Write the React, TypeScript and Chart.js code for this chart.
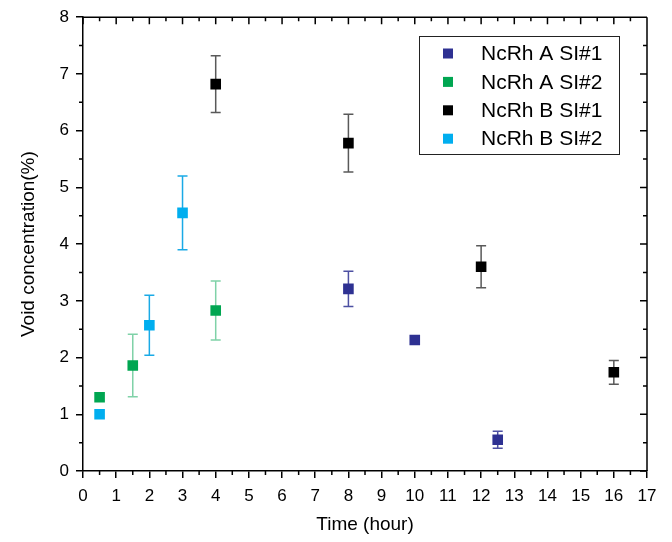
import React, { useEffect, useRef } from "react";
import { Chart, registerables } from "chart.js";

Chart.register(...registerables);

// ---- Data ----
const seriesLabels = ["NcRh A SI#1", "NcRh A SI#2", "NcRh B SI#1", "NcRh B SI#2"];

const aS1Time = [8, 10, 12.5];
const aS1Void = [3.21, 2.31, 0.55];
const aS1Err = [0.31, 0, 0.15];

const aS2Time = [0.5, 1.5, 4];
const aS2Void = [1.3, 1.86, 2.83];
const aS2Err = [0, 0.55, 0.52];

const bS1Time = [4, 8, 12, 16];
const bS1Void = [6.82, 5.78, 3.6, 1.74];
const bS1Err = [0.5, 0.51, 0.37, 0.21];

const bS2Time = [0.5, 2, 3];
const bS2Void = [1.0, 2.57, 4.55];
const bS2Err = [0, 0.53, 0.65];

const xTickMin = 0;
const xTickMax = 17;
const yTickMin = 0;
const yTickMax = 8;

// ---- Styles ----
const markerColors = ["#2E3192", "#00A651", "#000000", "#00AEEF"];
const errorColors = ["rgba(46,49,146,0.85)", "rgba(0,166,81,0.5)", "rgba(60,60,60,0.85)", "#1AAAE6"];
const FONT = "'Liberation Sans', Arial, sans-serif";

const allTimes = [aS1Time, aS2Time, bS1Time, bS2Time];
const allVoids = [aS1Void, aS2Void, bS1Void, bS2Void];
const allErrs = [aS1Err, aS2Err, bS1Err, bS2Err];

const errorBarPlugin = {
  id: "errorBars",
  beforeDatasetsDraw(chart: any) {
    const ctx = chart.ctx;
    const xs = chart.scales.x;
    const ys = chart.scales.y;
    ctx.save();
    ctx.lineWidth = 1.5;
    allTimes.forEach((times, di) => {
      ctx.strokeStyle = errorColors[di];
      times.forEach((t, i) => {
        const e = allErrs[di][i];
        if (!e) return;
        const px = xs.getPixelForValue(t);
        const top = ys.getPixelForValue(allVoids[di][i] + e);
        const bot = ys.getPixelForValue(allVoids[di][i] - e);
        ctx.beginPath();
        ctx.moveTo(px, top);
        ctx.lineTo(px, bot);
        ctx.moveTo(px - 5, top);
        ctx.lineTo(px + 5, top);
        ctx.moveTo(px - 5, bot);
        ctx.lineTo(px + 5, bot);
        ctx.stroke();
      });
    });
    ctx.restore();
  },
};

const framePlugin = {
  id: "frame",
  afterDraw(chart: any) {
    const ctx = chart.ctx;
    const { left, right, top, bottom } = chart.chartArea;
    const xs = chart.scales.x;
    const ys = chart.scales.y;
    const major = 7;
    const minor = 4;
    ctx.save();
    ctx.strokeStyle = "#000";
    ctx.lineWidth = 1.5;
    ctx.beginPath();
    ctx.moveTo(left, top);
    ctx.lineTo(right, top);
    ctx.moveTo(right, top);
    ctx.lineTo(right, bottom);
    for (let v = xTickMin; v <= xTickMax; v += 0.5) {
      const px = xs.getPixelForValue(v);
      const isMajor = Number.isInteger(v);
      const len = isMajor ? major : minor;
      ctx.moveTo(px, top);
      ctx.lineTo(px, top + len);
      if (!isMajor) {
        ctx.moveTo(px, bottom);
        ctx.lineTo(px, bottom + minor);
      }
    }
    for (let v = yTickMin; v <= yTickMax; v += 0.5) {
      const py = ys.getPixelForValue(v);
      const isMajor = Number.isInteger(v);
      const len = isMajor ? major : minor;
      ctx.moveTo(right, py);
      ctx.lineTo(right - len, py);
      if (!isMajor) {
        ctx.moveTo(left, py);
        ctx.lineTo(left - minor, py);
      }
    }
    ctx.stroke();

    // legend
    const bx = 419.5, by = 36.5, bw = 200, bh = 118;
    ctx.lineWidth = 1;
    ctx.strokeStyle = "#222";
    ctx.strokeRect(bx, by, bw, bh);
    ctx.font = `21px ${FONT}`;
    ctx.textBaseline = "middle";
    ctx.textAlign = "left";
    chart.data.datasets.forEach((ds: any, i: number) => {
      const cy = 53.5 + i * 28.4;
      ctx.fillStyle = ds.backgroundColor;
      ctx.fillRect(443, cy - 5, 10, 10);
      ctx.fillStyle = "#000";
      ctx.fillText(ds.label, 481, cy + 1);
    });
    ctx.restore();
  },
};

export default function App() {
  const canvasRef = useRef<HTMLCanvasElement | null>(null);

  useEffect(() => {
    document.body.style.margin = "0";
    const canvas = canvasRef.current;
    if (!canvas) return;
    const datasets = allTimes.map((times, di) => ({
      label: seriesLabels[di],
      data: times.map((t, i) => ({ x: t, y: allVoids[di][i] })),
      backgroundColor: markerColors[di],
      borderColor: markerColors[di],
      borderWidth: 0,
      pointStyle: "rect" as const,
      pointRadius: 7.5,
      pointHoverRadius: 7.5,
      showLine: false,
    }));
    const chart = new Chart(canvas, {
      type: "scatter",
      data: { datasets },
      options: {
        responsive: false,
        animation: false,
        devicePixelRatio: 1,
        layout: { padding: { top: 17, right: 25, left: 0, bottom: 0 } },
        plugins: {
          legend: { display: false },
          tooltip: { enabled: false },
        },
        scales: {
          x: {
            type: "linear",
            min: xTickMin,
            max: xTickMax,
            afterFit(scale: any) {
              scale.height = 71;
            },
            ticks: {
              stepSize: 1,
              padding: 8,
              color: "#000",
              font: { family: FONT, size: 17 },
              maxRotation: 0,
              autoSkip: false,
            },
            grid: {
              display: true,
              drawOnChartArea: false,
              drawTicks: true,
              tickLength: 7,
              color: "#000",
              lineWidth: 1.5,
            },
            border: { display: true, color: "#000", width: 1.5 },
            title: {
              display: true,
              text: "Time (hour)",
              color: "#000",
              font: { family: FONT, size: 19 },
              padding: { top: 0, bottom: 6 },
            },
          },
          y: {
            type: "linear",
            min: yTickMin,
            max: yTickMax,
            afterFit(scale: any) {
              scale.width = 83;
            },
            ticks: {
              stepSize: 1,
              padding: 7,
              color: "#000",
              font: { family: FONT, size: 17 },
            },
            grid: {
              display: true,
              drawOnChartArea: false,
              drawTicks: true,
              tickLength: 7,
              color: "#000",
              lineWidth: 1.5,
            },
            border: { display: true, color: "#000", width: 1.5 },
            title: {
              display: true,
              text: "Void concentration(%)",
              color: "#000",
              font: { family: FONT, size: 19 },
              padding: { top: 17, bottom: 0 },
            },
          },
        },
      },
      plugins: [errorBarPlugin, framePlugin],
    });
    return () => chart.destroy();
  }, []);

  return (
    <div style={{ width: 672, height: 542, background: "#fff" }}>
      <canvas ref={canvasRef} width={672} height={542} style={{ display: "block" }} />
    </div>
  );
}
